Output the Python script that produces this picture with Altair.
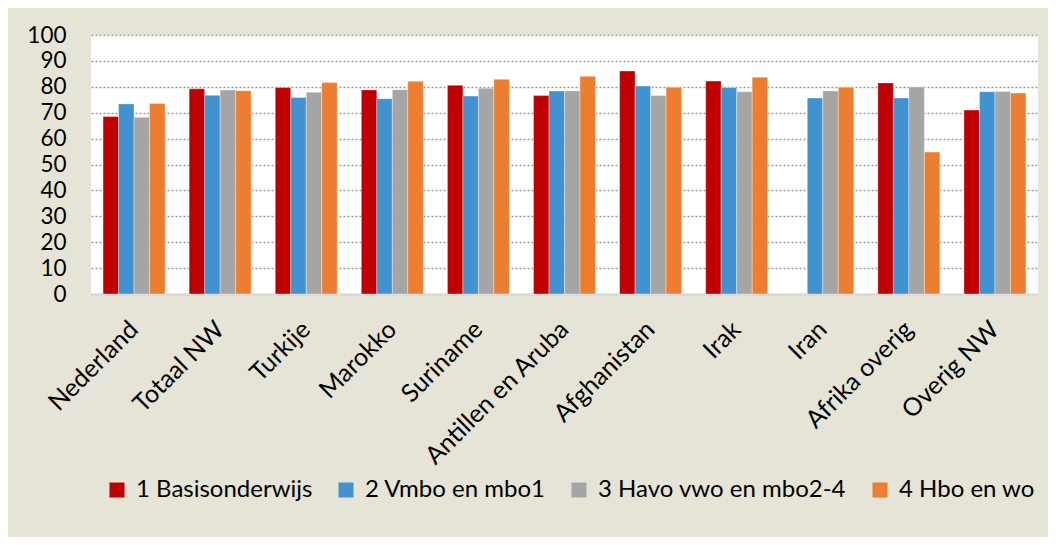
import altair as alt
import pandas as pd

categories = ["Nederland", "Totaal NW", "Turkije", "Marokko", "Suriname",
              "Antillen en Aruba", "Afghanistan", "Irak", "Iran",
              "Afrika overig", "Overig NW"]
series = ["1 Basisonderwijs", "2 Vmbo en mbo1", "3 Havo vwo en mbo2-4", "4 Hbo en wo"]
colors = ["#C00000", "#4192D0", "#A5A5A5", "#ED7D31"]

basis = [68.5, 79.2, 79.7, 78.8, 80.6, 76.6, 86.1, 82.2, None, 81.5, 71.0]
vmbo = [73.4, 76.7, 75.9, 75.4, 76.4, 78.4, 80.3, 79.7, 75.7, 75.7, 78.1]
havo = [68.2, 78.8, 77.9, 78.9, 79.4, 78.4, 76.6, 78.1, 78.4, 79.9, 78.2]
hbo = [73.6, 78.5, 81.7, 82.1, 82.9, 84.1, 79.8, 83.7, 79.8, 54.8, 77.6]

rows = []
for s, vals in zip(series, [basis, vmbo, havo, hbo]):
    for c, v in zip(categories, vals):
        if v is not None:
            rows.append({"cat": c, "series": s, "value": v})
df = pd.DataFrame(rows)

FONT = "Lato"

chart = alt.Chart(df).mark_bar(stroke="white", strokeOpacity=0.35, strokeWidth=1).encode(
    x=alt.X("cat:N", sort=categories, title=None,
            scale=alt.Scale(paddingInner=0.28, paddingOuter=0.14),
            axis=alt.Axis(labelAngle=-45, labelAlign="right", labelBaseline="middle",
                          labelPadding=31, ticks=False, domain=True, domainColor="#D9D9D9",
                          domainWidth=2, labelFont=FONT, labelFontSize=25,
                          labelColor="black", grid=False, labelLimit=0)),
    xOffset=alt.XOffset("series:N", sort=series,
                        scale=alt.Scale(paddingInner=0, paddingOuter=0)),
    y=alt.Y("value:Q", title=None,
            scale=alt.Scale(domain=[0, 100], nice=False),
            axis=alt.Axis(values=list(range(0, 101, 10)), ticks=False, domain=False,
                          labelPadding=25, labelFont=FONT, labelFontSize=22.5,
                          labelColor="black", grid=True, gridColor="#9A9A9A",
                          gridDash=[2, 2], gridWidth=1.3)),
    color=alt.Color("series:N", sort=series,
                    scale=alt.Scale(domain=series, range=colors),
                    legend=alt.Legend(orient="none", legendX=14, legendY=443,
                                      direction="horizontal", title=None,
                                      symbolType="square", symbolSize=225,
                                      symbolStrokeWidth=0, labelFont=FONT,
                                      labelFontSize=24, labelColor="black",
                                      labelLimit=0,
                                      columnPadding=21, padding=0, labelOffset=7)),
).properties(
    width=947, height=259,
    autosize=alt.AutoSizeParams(type="none"),
    padding={"left": 83, "top": 27, "right": 10, "bottom": 243},
    background="#E6E4D7",
).configure_view(fill="white", strokeWidth=0)

chart.save("out.html", embed_options={"renderer": "svg", "actions": False})
